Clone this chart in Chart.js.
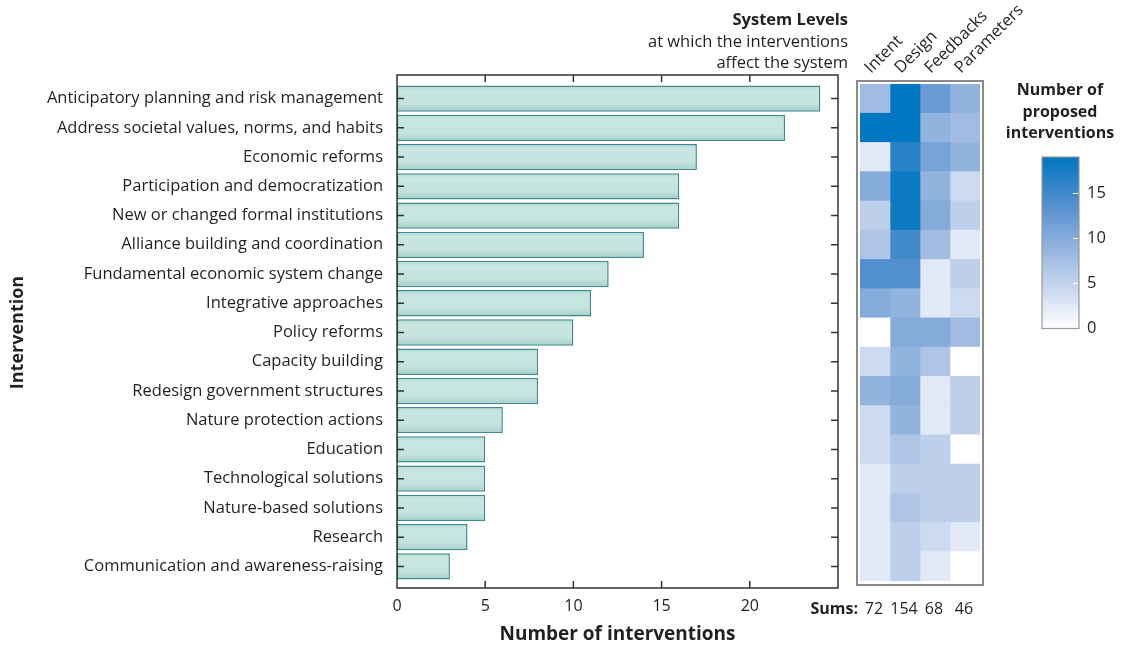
<!DOCTYPE html>
<html>
<head>
<meta charset="utf-8">
<script src="https://cdn.jsdelivr.net/npm/chart.js@4.4.1/dist/chart.umd.min.js"></script>
<style>
  body { margin: 0; background: #fff; }
  #wrap { position: relative; width: 1122px; height: 646px; }
  #wrap canvas { position: absolute; left: 0; top: 0; }
</style>
</head>
<body>
<div id="wrap">
  <canvas id="barChart" width="1122" height="646"></canvas>
  <canvas id="heatChart" width="1122" height="646"></canvas>
</div>
<script>
// --- Data ---
const categories = [
  "Anticipatory planning and risk management",
  "Address societal values, norms, and habits",
  "Economic reforms",
  "Participation and democratization",
  "New or changed formal institutions",
  "Alliance building and coordination",
  "Fundamental economic system change",
  "Integrative approaches",
  "Policy reforms",
  "Capacity building",
  "Redesign government structures",
  "Nature protection actions",
  "Education",
  "Technological solutions",
  "Nature-based solutions",
  "Research",
  "Communication and awareness-raising"
];
const interventionCounts = [24, 22, 17, 16, 16, 14, 12, 11, 10, 8, 8, 6, 5, 5, 5, 4, 3];
const xTicks = [0, 5, 10, 15, 20];

const levels = ["Intent", "Design", "Feedbacks", "Parameters"];
const intentValues    = [5, 18, 1, 7, 3, 4, 11, 7, 0, 2, 6, 2, 2, 1, 1, 1, 1];
const designValues    = [19, 17, 14, 16, 16, 12, 11, 6, 7, 6, 7, 6, 4, 3, 4, 3, 3];
const feedbackValues  = [9, 6, 8, 6, 7, 5, 1, 1, 7, 4, 1, 1, 3, 3, 3, 2, 1];
const parameterValues = [6, 5, 6, 2, 3, 1, 3, 2, 5, 0, 3, 3, 0, 3, 3, 1, 0];
const colorbarTicks = [0, 5, 10, 15];

const levelValues = [intentValues, designValues, feedbackValues, parameterValues];

// --- Styling helpers ---
const TXT = "#231f20";
const FONT = "'Open Sans', 'Noto Sans', sans-serif";

const stops = [
  [0, [255, 255, 255]],
  [0.25, [197, 213, 237]],
  [0.5, [140, 175, 220]],
  [0.75, [76, 140, 204]],
  [1, [0, 119, 192]]
];
function rgbAt(t) {
  for (let i = 1; i < stops.length; i++) {
    if (t <= stops[i][0]) {
      const [t0, c0] = stops[i - 1], [t1, c1] = stops[i];
      const f = (t - t0) / (t1 - t0);
      const c = c0.map((a, k) => Math.round(a + (c1[k] - a) * f));
      return `rgb(${c[0]},${c[1]},${c[2]})`;
    }
  }
  return "rgb(0,119,192)";
}
function cellColor(v) {
  return rgbAt(Math.min(1, Math.pow(Math.max(0, v) / 17, 0.72)));
}

// --- Bar chart frame + ticks ---
const framePlugin = {
  id: "frame",
  afterDraw(chart) {
    const { ctx, chartArea, scales } = chart;
    const left = chartArea.left, right = chartArea.right;
    const top = chartArea.top - 9, bottom = chartArea.bottom + 7;
    ctx.save();
    ctx.strokeStyle = "#333";
    ctx.lineWidth = 1.5;
    ctx.strokeRect(left, top, right - left, bottom - top);
    ctx.beginPath();
    xTicks.slice(1).forEach(v => {
      const x = scales.x.getPixelForValue(v);
      ctx.moveTo(x, top); ctx.lineTo(x, top + 7);
      ctx.moveTo(x, bottom); ctx.lineTo(x, bottom - 7);
    });
    categories.forEach((c, i) => {
      const y = scales.y.getPixelForValue(i);
      ctx.moveTo(left, y); ctx.lineTo(left + 7, y);
      ctx.moveTo(right, y); ctx.lineTo(right - 7, y);
    });
    ctx.stroke();
    ctx.restore();
  }
};

new Chart(document.getElementById("barChart"), {
  type: "bar",
  data: {
    labels: categories,
    datasets: [{
      data: interventionCounts,
      barPercentage: 0.9,
      categoryPercentage: 1.0,
      borderWidth: 1.5,
      borderSkipped: false,
      borderColor: "#3f8a92",
      backgroundColor: (c) => {
        const chart = c.chart;
        if (!chart.chartArea) return "#c6e4de";
        const y = chart.scales.y.getPixelForValue(c.dataIndex);
        const g = chart.ctx.createLinearGradient(0, y - 13, 0, y + 13);
        g.addColorStop(0, "#b4dad3");
        g.addColorStop(0.2, "#c9e7e1");
        g.addColorStop(0.7, "#c4e3dd");
        g.addColorStop(1, "#a3cfc7");
        return g;
      }
    }]
  },
  options: {
    indexAxis: "y",
    responsive: false,
    animation: false,
    layout: { padding: { top: 84, right: 284, bottom: 0, left: 0 } },
    plugins: { legend: { display: false }, tooltip: { enabled: false } },
    scales: {
      x: {
        type: "linear",
        min: 0,
        max: 25,
        grid: { display: false, drawTicks: false },
        border: { display: false },
        afterBuildTicks: (s) => { s.ticks = xTicks.map(v => ({ value: v })); },
        afterFit: (s) => { s.height = 65; },
        ticks: { color: TXT, font: { family: FONT, size: 16 }, padding: 16 },
        title: {
          display: true,
          text: "Number of interventions",
          color: TXT,
          font: { family: FONT, size: 19, weight: "bold" },
          padding: { top: 0, bottom: 0 }
        }
      },
      y: {
        grid: { display: false, drawTicks: false },
        border: { display: false },
        afterFit: (s) => { s.width = 397; },
        ticks: { color: TXT, font: { family: FONT, size: 16.5 }, padding: 14 },
        title: {
          display: true,
          text: "Intervention",
          color: TXT,
          font: { family: FONT, size: 18, weight: "bold" },
          padding: { top: 7, bottom: 0 }
        }
      }
    }
  },
  plugins: [framePlugin]
});

// --- Heatmap: floating bars, one dataset per system level ---
const heatPlugin = {
  id: "heatDecor",
  afterDraw(chart) {
    const { ctx, chartArea, scales } = chart;
    ctx.save();
    // frame
    ctx.strokeStyle = "#8a8a8a";
    ctx.lineWidth = 2;
    ctx.strokeRect(chartArea.left - 3, chartArea.top - 3, chartArea.right - chartArea.left + 6, chartArea.bottom - chartArea.top + 7);

    // rotated column labels
    ctx.fillStyle = TXT;
    ctx.font = `16.5px ${FONT}`;
    ctx.textAlign = "left";
    ctx.textBaseline = "alphabetic";
    levels.forEach((name, i) => {
      const x = scales.x.getPixelForValue(i + 0.5);
      ctx.save();
      ctx.translate(x - 4, 74);
      ctx.rotate(-Math.PI / 4);
      ctx.fillText(name, 0, 0);
      ctx.restore();
    });

    // header
    ctx.textAlign = "right";
    ctx.textBaseline = "middle";
    ctx.font = `bold 16.5px ${FONT}`;
    ctx.fillText("System Levels", 848, 20);
    ctx.font = `16.5px ${FONT}`;
    ctx.fillText("at which the interventions", 848, 42);
    ctx.fillText("affect the system", 848, 63);

    // sums
    ctx.font = `bold 16px ${FONT}`;
    ctx.fillText("Sums:", 858, 609);
    ctx.font = `16px ${FONT}`;
    ctx.textAlign = "center";
    levelValues.forEach((vals, i) => {
      const s = vals.reduce((a, b) => a + b, 0);
      ctx.fillText(String(s), scales.x.getPixelForValue(i + 0.5) - 1, 609);
    });

    // colour bar (0 to 19)
    const cbL = 1042, cbR = 1079, cbTop = 157, cbZero = 328.5, perUnit = 9.0;
    const g = ctx.createLinearGradient(0, cbZero, 0, cbTop);
    stops.forEach(([t]) => g.addColorStop(t, rgbAt(t)));
    ctx.fillStyle = g;
    ctx.fillRect(cbL, cbTop, cbR - cbL, cbZero - cbTop);
    ctx.strokeStyle = "#9a9a9a";
    ctx.lineWidth = 1.2;
    ctx.strokeRect(cbL, cbTop, cbR - cbL, cbZero - cbTop);
    ctx.strokeStyle = "#fff";
    ctx.beginPath();
    colorbarTicks.slice(1).forEach(v => {
      const y = cbZero - v * perUnit;
      ctx.moveTo(cbR - 6, y); ctx.lineTo(cbR - 1, y);
    });
    ctx.stroke();
    ctx.fillStyle = TXT;
    ctx.textAlign = "left";
    ctx.font = `16.5px ${FONT}`;
    colorbarTicks.forEach(v => ctx.fillText(String(v), 1087, cbZero - v * perUnit));

    ctx.textAlign = "center";
    ctx.font = `bold 16px ${FONT}`;
    ctx.fillText("Number of", 1060, 90);
    ctx.fillText("proposed", 1060, 112);
    ctx.fillText("interventions", 1060, 133);
    ctx.restore();
  }
};

new Chart(document.getElementById("heatChart"), {
  type: "bar",
  data: {
    labels: categories,
    datasets: levelValues.map((vals, li) => ({
      label: levels[li],
      data: vals.map(() => [li, li + 1]),
      backgroundColor: (c) => cellColor(levelValues[li][c.dataIndex]),
      borderWidth: 0,
      barPercentage: 1,
      categoryPercentage: 1,
      grouped: false
    }))
  },
  options: {
    indexAxis: "y",
    responsive: false,
    animation: false,
    layout: { padding: { top: 84, right: 142, bottom: 65, left: 860 } },
    plugins: { legend: { display: false }, tooltip: { enabled: false } },
    scales: {
      x: { type: "linear", min: 0, max: 4, display: false },
      y: { display: false }
    }
  },
  plugins: [heatPlugin]
});
</script>
</body>
</html>
